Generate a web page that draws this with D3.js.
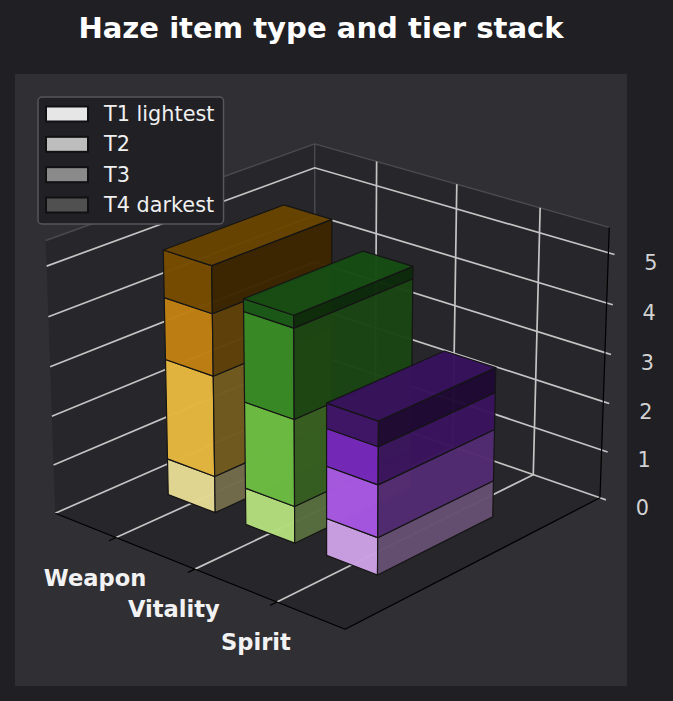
<!DOCTYPE html>
<html>
<head>
<meta charset="utf-8">
<script src="https://cdnjs.cloudflare.com/ajax/libs/d3/7.8.5/d3.min.js"></script>
<style>
  html, body { margin: 0; padding: 0; background: #1f1f24; }
  svg { display: block; }
  text { font-family: "DejaVu Sans", sans-serif; }
</style>
</head>
<body>
<svg id="chart"></svg>
<script>
const categories = ['Weapon', 'Vitality', 'Spirit'];
const tiers = ['T1 lightest', 'T2', 'T3', 'T4 darkest'];
const zTicks = [0, 1, 2, 3, 4, 5];

// one value per tier, bottom to top
const weapon = [0.75, 2.05, 1.25, 0.95];
const vitality = [0.75, 1.75, 1.8, 0.25];
const spirit = [0.75, 1.05, 0.75, 0.5];
const seriesValues = [weapon, vitality, spirit];

const weaponColors = ['#e4d893', '#e4b63e', '#c08112', '#774d00'];
const vitalityColors = ['#b2dc7c', '#6cbb42', '#378a26', '#195816'];
const spiritColors = ['#cba0e2', '#a658e0', '#7428ba', '#3f1468'];
const seriesColors = [weaponColors, vitalityColors, spiritColors];
const legendColors = ['#e6e6e6', '#bdbdbd', '#8a8a8a', '#505050'];

const width = 673;
const height = 701;

const xLim = [-0.8, 2.8];
const yLim = [0, 1];
const zLim = [0, 5.5];
const barLeft = -0.3;
const barRight = 0.31;
const barY = [0.274, 0.725];

// camera, same idea as matplotlib's mplot3d
const elev = 22.5 * Math.PI / 180;
const azim = -48.5 * Math.PI / 180;
const dist = 10;
const box = [1.175, 1.19, 0.885];

const xBox = d3.scaleLinear().domain(xLim).range([0, box[0]]);
const yBox = d3.scaleLinear().domain(yLim).range([0, box[1]]);
const zBox = d3.scaleLinear().domain(zLim).range([0, box[2]]);
const xScreen = d3.scaleLinear().domain([-0.1, 0.1]).range([329 - 332, 329 + 332]);
const yScreen = d3.scaleLinear().domain([-0.1, 0.1]).range([372 + 332, 372 - 332]);

const dot = (a, b) => a[0] * b[0] + a[1] * b[1] + a[2] * b[2];
const viewW = [Math.cos(elev) * Math.cos(azim), Math.cos(elev) * Math.sin(azim), Math.sin(elev)];
const viewU = [-Math.sin(azim), Math.cos(azim), 0];
const viewV = [-Math.sin(elev) * Math.cos(azim), -Math.sin(elev) * Math.sin(azim), Math.cos(elev)];

function project(x, y, z) {
  const p = [xBox(x) - box[0] / 2, yBox(y) - box[1] / 2, zBox(z) - box[2] / 2];
  const depth = dist - dot(p, viewW);
  return [xScreen(dot(p, viewU) / depth), yScreen(dot(p, viewV) / depth)];
}

const line = d3.line();
const poly = (pts) => line(pts) + 'Z';

const svg = d3.select('#chart').attr('width', width).attr('height', height);
svg.append('rect').attr('width', width).attr('height', height).attr('fill', '#1f1f24');
svg.append('rect').attr('x', 15).attr('y', 74).attr('width', 612).attr('height', 612).attr('fill', '#2f2f34');

svg.append('text').attr('x', 321).attr('y', 38).attr('text-anchor', 'middle')
  .attr('font-size', 29.1).attr('font-weight', 'bold').attr('fill', '#ffffff')
  .text('Haze item type and tier stack');

// panes
const [x0, x1] = xLim;
const [y0, y1] = yLim;
const [z0, z1] = zLim;
const panes = [
  [[x0, y0, z0], [x1, y0, z0], [x1, y1, z0], [x0, y1, z0]],
  [[x0, y0, z0], [x0, y1, z0], [x0, y1, z1], [x0, y0, z1]],
  [[x0, y1, z0], [x1, y1, z0], [x1, y1, z1], [x0, y1, z1]]
];
svg.append('g').selectAll('path').data(panes).join('path')
  .attr('d', (d) => poly(d.map((p) => project(...p))))
  .attr('fill', '#27272b');

// dim edges of the back panes
const dimEdges = [
  [[x0, y0, z1], [x0, y1, z1]],
  [[x0, y1, z1], [x1, y1, z1]],
  [[x0, y1, z0], [x0, y1, z1]]
];
svg.append('g').selectAll('path').data(dimEdges).join('path')
  .attr('d', (d) => line(d.map((p) => project(...p))))
  .attr('fill', 'none').attr('stroke', '#4a4a50').attr('stroke-width', 1.4);

// grid
const grid = svg.append('g').attr('fill', 'none').attr('stroke', '#c4c4c4').attr('stroke-width', 1.7);
grid.selectAll('.zgrid').data(zTicks).join('path').attr('class', 'zgrid')
  .attr('d', (z) => {
    const end = project(x1 + 0.07, y1, z);
    return line([project(x0, y0, z), project(x0, y1, z), project(x1, y1, z), end]);
  });
grid.selectAll('.xgrid').data(categories).join('path').attr('class', 'xgrid')
  .attr('d', (c, i) => line([project(i, y0, z0), project(i, y1, z0), project(i, y1, z1)]));

// axis lines
const axisEdges = [
  [[x0, y0, z0], [x1, y0, z0]],
  [[x1, y0, z0], [x1, y1, z0]],
  [[x1, y1, z0], [x1, y1, z1]]
];
svg.append('g').selectAll('path').data(axisEdges).join('path')
  .attr('d', (d) => line(d.map((p) => project(...p))))
  .attr('fill', 'none').attr('stroke', '#000000').attr('stroke-width', 1.2);
svg.append('g').selectAll('path').data(categories).join('path')
  .attr('d', (c, i) => line([project(i, y0 - 0.025, z0), project(i, y0, z0)]))
  .attr('fill', 'none').attr('stroke', '#000000').attr('stroke-width', 1.2);

// bars, back to front
const faces = [];
seriesValues.forEach((values, i) => {
  const stacked = d3.cumsum(values);
  values.forEach((v, t) => {
    const low = stacked[t] - v;
    const high = stacked[t];
    const color = seriesColors[i][t];
    const xa = i + barLeft;
    const xb = i + barRight;
    faces.push({ shade: 1, color, pts: [[xa, barY[0], low], [xb, barY[0], low], [xb, barY[0], high], [xa, barY[0], high]] });
    faces.push({ shade: 0.5, color, pts: [[xb, barY[0], low], [xb, barY[1], low], [xb, barY[1], high], [xb, barY[0], high]] });
    if (t === values.length - 1) {
      faces.push({ shade: 0.88, color, pts: [[xa, barY[0], high], [xb, barY[0], high], [xb, barY[1], high], [xa, barY[1], high]] });
    }
  });
});
svg.append('g').selectAll('path').data(faces).join('path')
  .attr('d', (d) => poly(d.pts.map((p) => project(...p))))
  .attr('fill', (d) => d3.rgb(d.color).darker(Math.log(d.shade) / Math.log(0.7)).formatHex())
  .attr('fill-opacity', 0.98)
  .attr('stroke', '#151515').attr('stroke-width', 1.2).attr('stroke-linejoin', 'round');

// tick labels sit at a fixed offset from their tick
svg.append('g').selectAll('text').data(categories).join('text')
  .attr('x', (c, i) => project(i, y0, z0)[0] - 21)
  .attr('y', (c, i) => project(i, y0, z0)[1] + 48)
  .attr('text-anchor', 'middle').attr('font-size', 22.6).attr('font-weight', 'bold').attr('fill', '#f2f2f2')
  .text((c) => c);
svg.append('g').selectAll('text').data(zTicks).join('text')
  .attr('x', (z) => project(x1, y1, z)[0] + 42.5)
  .attr('y', (z) => project(x1, y1, z)[1] + 17.5)
  .attr('text-anchor', 'middle').attr('font-size', 20.8).attr('fill', '#d2d2d2')
  .text((z) => z);

// legend
const legend = svg.append('g');
legend.append('rect').attr('x', 38).attr('y', 97).attr('width', 185.5).attr('height', 127).attr('rx', 4)
  .attr('fill', '#202025').attr('stroke', '#56565c').attr('stroke-width', 1.5);
const rowY = d3.scaleLinear().domain([0, 3]).range([114, 205]);
const rows = legend.selectAll('g').data(tiers).join('g')
  .attr('transform', (d, i) => `translate(0,${rowY(i)})`);
rows.append('rect').attr('x', 46).attr('y', -7.5).attr('width', 42).attr('height', 15)
  .attr('fill', (d, i) => legendColors[i]).attr('stroke', '#111114').attr('stroke-width', 2);
rows.append('text').attr('x', 104).attr('y', 7).attr('font-size', 20.8).attr('fill', '#f0f0f0').text((d) => d);
</script>
</body>
</html>
